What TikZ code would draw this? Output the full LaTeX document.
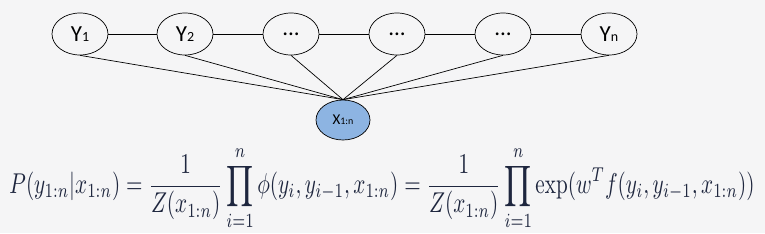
\documentclass[tikz,border=0pt]{standalone}
\usepackage{fontspec}
\setsansfont{Carlito}
\usepackage{graphicx}
\usetikzlibrary{shapes.geometric}
\definecolor{xblue}{RGB}{141,180,226}
\definecolor{eqnavy}{RGB}{30,38,62}
\definecolor{bggray}{RGB}{245,245,246}
\newcommand{\nsub}[1]{{\fontsize{14}{14}\selectfont #1}}
\newcommand{\etcdots}{...}
\begin{document}
\begin{tikzpicture}[x=1pt,y=-1pt,
  yvar/.style={ellipse,draw,line width=0.7pt,minimum width=56pt,minimum height=42pt,inner sep=0pt,font=\sffamily\fontsize{23}{25}\selectfont},
  xvar/.style={yvar,fill=xblue,minimum width=54pt,minimum height=40pt,font=\sffamily\fontsize{15}{17}\selectfont}]
\fill[bggray] (0,0) rectangle (765,233);
\useasboundingbox (0,0) rectangle (765,233);
\foreach \i/\x/\l in {1/80/Y\nsub{1},2/185/Y\nsub{2},3/291/\etcdots,4/397/\etcdots,5/503/\etcdots,6/609/Y\nsub{n}} {
  \node[yvar] (y\i) at (\x,34) {\l};
}
\node[xvar] (x) at (343,120) {X{\fontsize{10}{10}\selectfont 1:n}};
\foreach \i [count=\j from 2] in {1,...,5}
  \draw[line width=0.7pt] (y\i) -- (y\j);
\foreach \i in {1,...,6}
  \draw[line width=0.7pt] (y\i.south) -- (x.north);
% conditional probability of the chain
\node[text=eqnavy,inner sep=0pt] (eq) at (382,188) {\resizebox*{745pt}{84pt}{$\displaystyle
  P(y_{1{:}n}|x_{1{:}n})=\frac{1}{Z(x_{1{:}n})}\prod_{i=1}^{n}\phi(y_i,y_{i-1},x_{1{:}n})
  =\frac{1}{Z(x_{1{:}n})}\prod_{i=1}^{n}\exp(w^T f(y_i,y_{i-1},x_{1{:}n}))$}};
\end{tikzpicture}
\end{document}
